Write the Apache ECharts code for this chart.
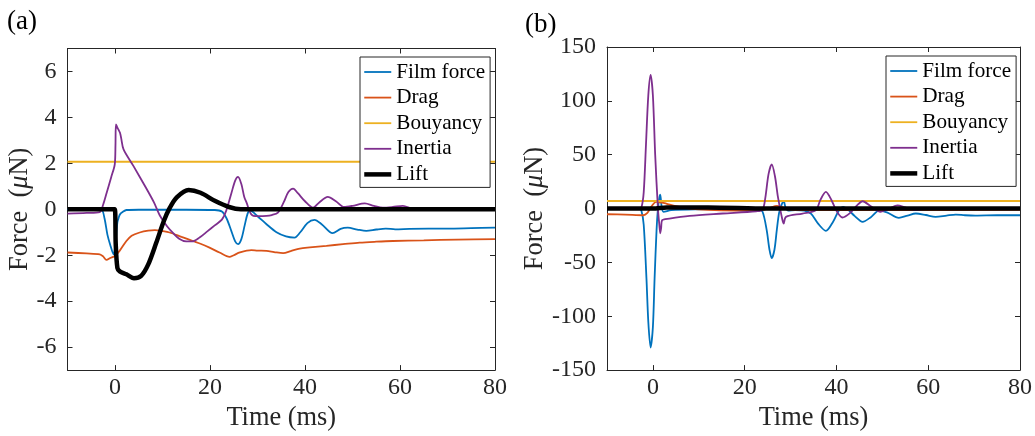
<!DOCTYPE html>
<html><head><meta charset="utf-8">
<script src="https://cdn.jsdelivr.net/npm/echarts@6/dist/echarts.min.js"></script>
<style>html,body{margin:0;padding:0;background:#fff}#c{width:1035px;height:436px}</style>
</head><body><div id="c"></div><script>
// ---------- data ----------
const seriesNames = ['Film force', 'Drag', 'Bouyancy', 'Inertia', 'Lift'];
const xTicks = [0, 20, 40, 60, 80];
const yTicksA = [-6, -4, -2, 0, 2, 4, 6];
const yTicksB = [-150, -100, -50, 0, 50, 100, 150];

// panel (a)  [time ms, force uN]
const filmA = [[-10,0],[-4,0],[-2.8,-0.02],[-2.2,-0.4],[-1.6,-1.1],[-1,-1.55],[-0.3,-1.96],[0.1,-1.5],[0.5,-0.57],[0.8,-0.35],[1.05,-0.22],[1.6,-0.12],[2.4,-0.03],[5,-0.02],[15,-0.02],[21,-0.03],[22.5,-0.1],[23.5,-0.4],[24.5,-0.95],[25.3,-1.4],[25.9,-1.52],[26.6,-1.3],[27.3,-0.7],[27.9,-0.2],[28.4,-0.05],[30,-0.3],[31.9,-0.65],[34,-1.0],[36,-1.18],[37.8,-1.23],[39,-1.0],[40.5,-0.6],[42,-0.46],[43.5,-0.65],[45.8,-1.04],[47.5,-0.85],[49,-0.8],[51,-0.88],[52.9,-0.94],[55,-0.88],[57,-0.84],[59,-0.87],[62,-0.85],[66,-0.84],[70,-0.84],[75,-0.82],[80,-0.8]];
const dragA = [[-10,-1.88],[-6,-1.92],[-3.2,-1.96],[-2.5,-2.05],[-1.8,-2.2],[-1,-2.12],[0,-2.03],[1,-1.8],[2.4,-1.38],[3.5,-1.15],[5.2,-1.01],[7,-0.93],[8.4,-0.91],[10,-0.95],[11.5,-1.01],[14,-1.2],[16.4,-1.38],[18,-1.5],[19.9,-1.67],[22,-1.88],[24.1,-2.07],[25,-2.0],[26.3,-1.88],[28.7,-1.78],[30,-1.8],[31.9,-1.81],[33.5,-1.86],[35.4,-1.91],[37,-1.82],[38.9,-1.71],[41,-1.66],[44.5,-1.59],[48,-1.52],[51.5,-1.45],[55,-1.41],[58.5,-1.38],[65,-1.35],[72,-1.32],[80,-1.30]];
const bouyA = [[-10,2.07],[80,2.07]];
const inertiaA = [[-10,-0.19],[-6,-0.16],[-3.2,-0.12],[-2.5,0.2],[-1.75,0.72],[-0.8,1.4],[-0.05,1.96],[0.1,2.8],[0.2,3.7],[0.5,3.55],[0.7,3.48],[1.05,3.33],[1.3,3.1],[1.8,2.61],[3.9,1.88],[6.7,0.87],[8.2,0.3],[9.5,-0.29],[11,-0.75],[12.3,-1.05],[13.5,-1.28],[15,-1.4],[16.3,-1.4],[17.8,-1.23],[19.5,-0.95],[21,-0.7],[22.5,-0.45],[23.4,-0.07],[24.5,0.7],[25.3,1.25],[25.9,1.41],[26.6,1.1],[27.2,0.55],[27.7,0.29],[28.7,-0.22],[30,-0.3],[31.9,-0.29],[33,-0.25],[34.3,-0.14],[35.5,0.3],[36.5,0.75],[37.5,0.9],[38.5,0.7],[40,0.35],[41.7,0.07],[43,0.3],[44.8,0.54],[46.5,0.35],[48.2,0.1],[50,0.15],[52.6,0.26],[54.5,0.15],[56.4,0.07],[58.5,0.1],[60.6,0.15],[62.7,0.02],[66,0],[80,0]];
const liftA = [[-10,0],[-1,0],[-0.05,0],[0.15,-1.5],[0.5,-2.55],[1,-2.7],[2.4,-2.83],[4,-3.0],[5.5,-2.9],[7,-2.4],[8.7,-1.45],[10.3,-0.5],[11.5,0.05],[13,0.52],[15.5,0.84],[18,0.72],[21,0.37],[24,0.1],[26.5,0],[30,0],[80,0]];

// panel (b)
const filmB = [[-10,0],[-3,0],[-2.5,-2],[-2,-15],[-1.4,-65],[-1,-105],[-0.5,-129],[0,-110],[0.37,-65],[0.8,-20],[1.1,0],[1.4,10],[1.6,13],[1.9,2],[2.3,-3],[4,-1.5],[10,-0.8],[20,-0.5],[23,-1],[23.9,-3],[24.8,-20],[25.4,-38],[25.9,-46],[26.5,-38],[27,-20],[27.5,-4],[28,3],[28.5,7],[28.9,1],[29.5,-2],[31,-1.5],[33,-2],[34.5,-5],[36,-14],[37.7,-20.7],[39.3,-12],[40.5,-2],[41.5,1.5],[42.5,-1],[44,-7],[45.7,-12.3],[47.5,-8],[49.3,-2],[51,-3.5],[53.6,-8.6],[55.5,-6.5],[57.3,-4.6],[59.5,-6],[61.6,-7.7],[64,-6.5],[66,-5.6],[68,-6.2],[70.3,-6.5],[75,-6.2],[80,-6.2]];
const dragB = [[-10,-5.3],[-6,-5.6],[-2.1,-6.2],[-1.2,-4],[-0.3,2],[0.7,6.2],[1.9,5.6],[2.9,4.6],[5,2.2],[8,0],[12,-1.3],[18,-1.8],[23.9,-1.5],[25.5,0.5],[27,2.5],[28,1.5],[29.5,-1],[35,-1.4],[50,-1.4],[80,-1.3]];
const bouyB = [[-10,7],[80,7]];
const inertiaB = [[-10,0],[-3,0],[-2.5,1],[-2,15],[-1.5,60],[-1,105],[-0.5,124],[0,105],[0.5,50],[1.1,0],[1.4,-15],[1.6,-23],[1.8,-18],[2.0,-10.8],[3.6,-9.3],[8,-6.8],[15.2,-4.6],[22.5,-2.5],[23.9,-1],[24.5,10],[25.2,32],[25.9,41],[26.6,30],[27.2,12],[27.5,5],[28,-6],[28.5,-14],[29,-7.7],[32.6,-4.6],[35.5,-1.5],[36.5,8],[37.7,15.4],[38.9,8],[40,-2],[41.3,-8.3],[43,-4],[44.5,3],[45.7,6.8],[47.5,2],[49.6,-3],[51.5,0],[53.3,3],[55,1],[57.3,-1.5],[60,0],[80,0]];
const liftB = [[-10,0],[0,0],[3,1],[12,1],[25,0],[80,0]];

// ---------- styling ----------
const AX = '#262626';
const FONT = 'Liberation Serif';
const colors = ['#0072BD', '#D95319', '#EDB120', '#7E2F8E', '#000000'];
const widths = [1.8, 1.8, 1.8, 1.8, 4.5];

function xAx(gi, bottom) {
  return {
    type: 'value', gridIndex: gi, min: -10, max: 80, position: bottom ? 'bottom' : 'top',
    name: bottom ? 'Time (ms)' : '', nameLocation: 'middle', nameGap: 34,
    nameTextStyle: { fontFamily: FONT, fontSize: 26.4, color: AX },
    axisLine: { show: true, onZero: false, lineStyle: { color: AX, width: 1 } },
    axisTick: { show: true, inside: true, length: 5, customValues: xTicks, lineStyle: { color: AX } },
    axisLabel: { show: bottom, customValues: xTicks, fontFamily: FONT, fontSize: 24, color: AX, margin: 6 },
    splitLine: { show: false }
  };
}
function yAx(gi, left, min, max, ticks, gap) {
  return {
    type: 'value', gridIndex: gi, min: min, max: max, position: left ? 'left' : 'right',
    name: left ? '{n|Force  (}{m|μ}{n|N)}' : '', nameLocation: 'middle', nameGap: gap,
    nameTextStyle: { rich: {
      n: { fontFamily: FONT, fontSize: 26.4, color: AX },
      m: { fontFamily: FONT, fontSize: 26.4, color: AX, fontStyle: 'italic' } } },
    axisLine: { show: true, onZero: false, lineStyle: { color: AX, width: 1 } },
    axisTick: { show: true, inside: true, length: 5, customValues: ticks, lineStyle: { color: AX } },
    axisLabel: { show: left, customValues: ticks, fontFamily: FONT, fontSize: 24, color: AX, margin: 11 },
    splitLine: { show: false }
  };
}
function mkSeries(names, datas, gi) {
  return datas.map((d, i) => ({
    name: names[i], type: 'line', xAxisIndex: gi * 2, yAxisIndex: gi * 2,
    data: d, symbol: 'none', showSymbol: false, silent: true, animation: false,
    smooth: 0.3,
    lineStyle: { color: colors[i], width: widths[i] },
    itemStyle: { color: colors[i] }
  }));
}
function mkLegend(left, top) {
  return {
    orient: 'vertical', left: left, top: top, itemWidth: 27, itemHeight: 14, itemGap: 3.6,
    padding: [4, 5, 2, 2], borderColor: AX, borderWidth: 1, backgroundColor: '#fff',
    selectedMode: false,
    data: seriesNames.map((n, i) => ({ name: n, lineStyle: { width: widths[i], color: colors[i] } })),
    itemStyle: { opacity: 0, color: 'rgba(0,0,0,0)', borderWidth: 0 },
    textStyle: { fontFamily: FONT, fontSize: 21.2, color: '#000', lineHeight: 22 }
  };
}

const chart = echarts.init(document.getElementById('c'), null, { renderer: 'canvas' });
chart.setOption({
  animation: false,
  backgroundColor: '#fff',
  title: [
    { text: '(a)', left: 7, top: 8, padding: 0, textStyle: { fontFamily: FONT, fontSize: 27, fontWeight: 'normal', color: '#000' } },
    { text: '(b)', left: 525, top: 11, padding: 0, textStyle: { fontFamily: FONT, fontSize: 27, fontWeight: 'normal', color: '#000' } }
  ],
  grid: [
    { left: 67.5, right: 540, top: 48.5, bottom: 64 },
    { left: 607, right: 13, top: 47, bottom: 64 }
  ],
  xAxis: [xAx(0, true), xAx(0, false), xAx(1, true), xAx(1, false)],
  yAxis: [yAx(0, true, -7, 7, yTicksA, 33), yAx(0, false, -7, 7, yTicksA, 0),
          yAx(1, true, -150, 150, yTicksB, 44), yAx(1, false, -150, 150, yTicksB, 0)],
  legend: [mkLegend(360, 57), mkLegend(886, 56)],
  series: [].concat(
    mkSeries(seriesNames, [filmA, dragA, bouyA, inertiaA, liftA], 0),
    mkSeries(seriesNames, [filmB, dragB, bouyB, inertiaB, liftB], 1)
  )
});
</script></body></html>
